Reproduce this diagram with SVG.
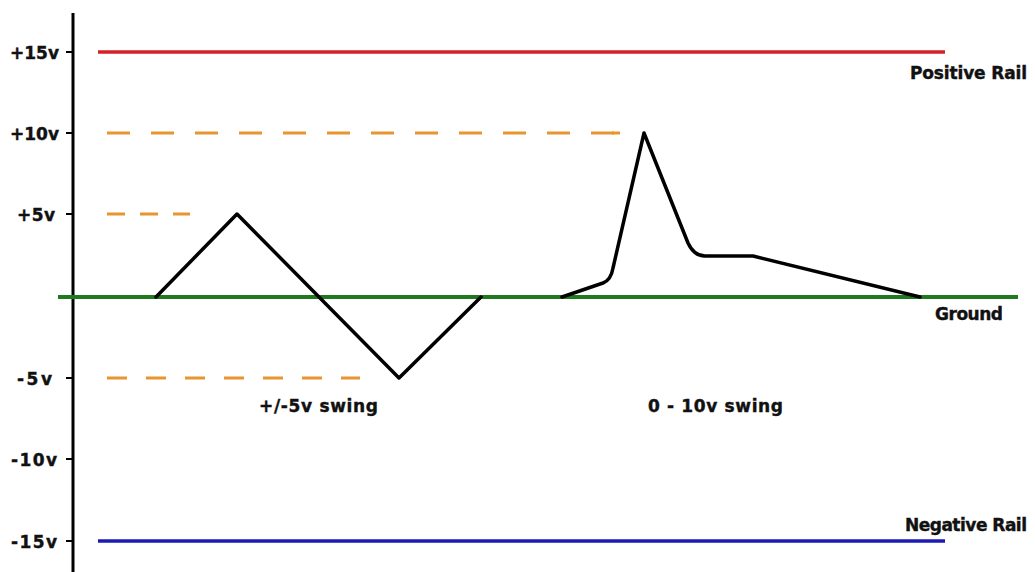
<svg xmlns="http://www.w3.org/2000/svg" width="1035" height="572" viewBox="0 0 1035 572">
<style>
text{font-family:"DejaVu Sans","Liberation Sans",sans-serif;font-weight:bold;font-size:17px;fill:#111;stroke:#111;stroke-width:0.4}
.lbl{text-anchor:end}
.axis{stroke:#000;stroke-width:3;fill:none}
.tick{stroke:#000;stroke-width:2}
.dash{stroke:#E8952F;stroke-width:3;fill:none}
.wave{stroke:#000;stroke-width:3.5;fill:none;stroke-linejoin:round;stroke-linecap:round}
</style>
<rect width="1035" height="572" fill="#fff"/>
<g id="axis">
<line class="axis" x1="73" y1="13" x2="73" y2="572"/>
<line class="tick" x1="66" y1="52" x2="73" y2="52"/>
<line class="tick" x1="66" y1="133" x2="73" y2="133"/>
<line class="tick" x1="66" y1="214" x2="73" y2="214"/>
<line class="tick" x1="66" y1="378" x2="73" y2="378"/>
<line class="tick" x1="66" y1="459" x2="73" y2="459"/>
<line class="tick" x1="66" y1="541" x2="73" y2="541"/>
<text class="lbl" x="59" y="59" textLength="49">+15v</text>
<text class="lbl" x="59" y="140" textLength="49">+10v</text>
<text class="lbl" x="55" y="221" textLength="38">+5v</text>
<text class="lbl" x="52" y="385" textLength="35">-5v</text>
<text class="lbl" x="57" y="466" textLength="46">-10v</text>
<text class="lbl" x="57" y="548" textLength="46">-15v</text>
</g>
<g id="positive-rail">
<line x1="98" y1="52" x2="945" y2="52" stroke="#D42027" stroke-width="3.5"/>
<text x="910" y="79" textLength="117">Positive Rail</text>
</g>
<g id="negative-rail">
<line x1="98" y1="541" x2="945" y2="541" stroke="#1A1AB5" stroke-width="3.5"/>
<text x="905" y="531" textLength="122">Negative Rail</text>
</g>
<g id="ground">
<line x1="58" y1="297" x2="1018" y2="297" stroke="#1F7A1F" stroke-width="4"/>
<text x="935" y="320" textLength="68">Ground</text>
</g>
<g id="guides">
<line class="dash" x1="107" y1="133" x2="614" y2="133" stroke-dasharray="23 21"/>
<line class="dash" x1="612" y1="133" x2="620" y2="133"/>
<line class="dash" x1="107" y1="214" x2="190" y2="214" stroke-dasharray="18 15"/>
<line class="dash" x1="107" y1="378" x2="360" y2="378" stroke-dasharray="20 19"/>
</g>
<g id="swing-5v">
<polyline class="wave" points="156,297 237,214 399,378 481,297"/>
<text x="259" y="412" textLength="119">+/-5v swing</text>
</g>
<g id="swing-10v">
<path class="wave" d="M562,297 L603,283 Q611,280 613,268 L644,133 L688,243 Q694,256 705,256 L753,256 L920,297"/>
<text x="648" y="412" textLength="135">0 - 10v swing</text>
</g>
</svg>
